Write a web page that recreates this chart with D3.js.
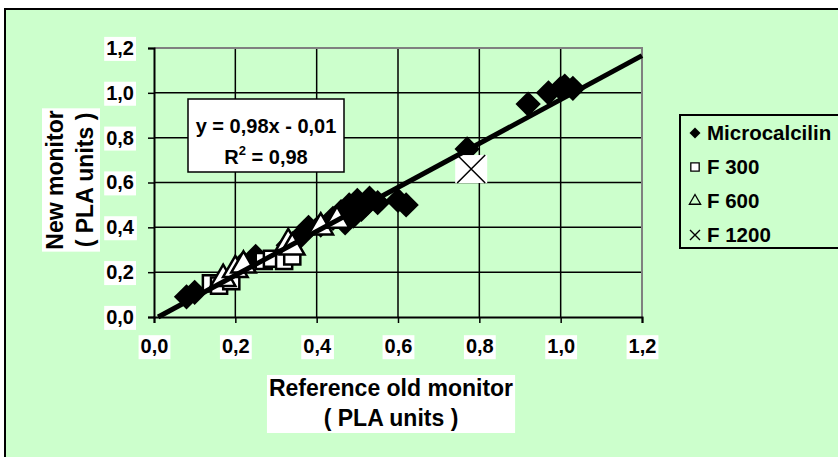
<!DOCTYPE html>
<html>
<head>
<meta charset="utf-8">
<script src="https://cdn.jsdelivr.net/npm/d3@7"></script>
<style>
  body { margin: 0; background: #fff; }
  text { font-family: "Liberation Sans", Arial, sans-serif; font-weight: bold; fill: #000; }
</style>
</head>
<body>
<svg width="838" height="457"></svg>
<script>

// Microcalcilin points (reference old monitor vs new monitor)
var microX = [0.08, 0.10, 0.22, 0.25, 0.33, 0.36, 0.38, 0.41, 0.44, 0.46, 0.47, 0.48, 0.49, 0.50, 0.51, 0.52, 0.53, 0.55, 0.60, 0.62, 0.77, 0.92, 0.97, 1.00, 1.01, 1.03];
var microY = [0.09, 0.11, 0.24, 0.27, 0.32, 0.36, 0.40, 0.41, 0.44, 0.47, 0.42, 0.50, 0.45, 0.52, 0.48, 0.50, 0.53, 0.51, 0.52, 0.50, 0.75, 0.95, 1.00, 1.02, 1.03, 1.02];

// F 300
var f300X = [0.14, 0.16, 0.19, 0.27, 0.29, 0.32, 0.34];
var f300Y = [0.15, 0.14, 0.16, 0.25, 0.26, 0.25, 0.27];

// F 600
var f600X = [0.17, 0.20, 0.22, 0.33, 0.34, 0.41, 0.45];
var f600Y = [0.17, 0.21, 0.23, 0.33, 0.31, 0.40, 0.43];

// F 1200
var f1200X = [0.78];
var f1200Y = [0.66];

// Axis ticks and labels
var tickValues = [0, 0.2, 0.4, 0.6, 0.8, 1.0, 1.2];
var tickLabels = ['0,0', '0,2', '0,4', '0,6', '0,8', '1,0', '1,2'];

// Linear trend
var slope = 0.98;
var intercept = -0.01;
var eqLabel = 'y = 0,98x - 0,01';
var r2Label = '0,98';

var seriesNames = ['Microcalcilin', 'F 300', 'F 600', 'F 1200'];

var svg = d3.select('svg');

// Chart area background and frame
svg.append('rect')
    .attr('x', 5).attr('y', 9)
    .attr('width', 845).attr('height', 460)
    .attr('fill', '#ccffcc')
    .attr('stroke', '#000')
    .attr('stroke-width', 2);

var x = d3.scaleLinear().domain([0, 1.2]).range([154, 642]);
var y = d3.scaleLinear().domain([0, 1.2]).range([317, 48]);

// Grid lines
svg.append('g').selectAll('line').data(tickValues.slice(1, -1))
  .enter().append('line')
    .attr('x1', d => x(d)).attr('x2', d => x(d))
    .attr('y1', y(0)).attr('y2', y(1.2))
    .attr('stroke', '#000').attr('stroke-width', 1.5);

svg.append('g').selectAll('line').data(tickValues.slice(1, -1))
  .enter().append('line')
    .attr('y1', d => y(d)).attr('y2', d => y(d))
    .attr('x1', x(0)).attr('x2', x(1.2))
    .attr('stroke', '#000').attr('stroke-width', 1.5);

// Plot border, top and right in gray
svg.append('path')
    .attr('d', 'M' + x(0) + ',' + y(1.2) + 'H' + x(1.2) + 'V' + y(0))
    .attr('fill', 'none')
    .attr('stroke', '#808080')
    .attr('stroke-width', 2);

// Axes
var fmt = d => tickLabels[tickValues.indexOf(d)];

var yAxis = svg.append('g')
    .attr('transform', 'translate(' + x(0) + ',0)')
    .call(d3.axisLeft(y).tickValues(tickValues).tickFormat(fmt).tickSize(6).tickPadding(14));

var xAxis = svg.append('g')
    .attr('transform', 'translate(0,' + y(0) + ')')
    .call(d3.axisBottom(x).tickValues(tickValues).tickFormat(fmt).tickSize(6).tickPadding(16));

[yAxis, xAxis].forEach(function(ax) {
  ax.select('.domain').attr('stroke', '#000').attr('stroke-width', 2);
  ax.selectAll('.tick line').attr('stroke', '#000').attr('stroke-width', 1.5);
  ax.selectAll('.tick text')
      .style('font-size', '20px')
      .style('font-family', '"Liberation Sans", Arial, sans-serif')
      .style('font-weight', 'bold')
      .attr('fill', '#000');
  // white box behind each tick label
  ax.selectAll('.tick').each(function() {
    var t = d3.select(this).select('text');
    var b = t.node().getBBox();
    d3.select(this).insert('rect', 'text')
        .attr('x', b.x - 2).attr('y', b.y)
        .attr('width', b.width + 4).attr('height', b.height + 2)
        .attr('fill', '#fff');
  });
});

// Marker shapes
var diamond = d3.symbol().type(d3.symbolSquare).size(320);
var square = d3.symbol().type(d3.symbolSquare).size(260);
var triangle = d3.symbol().type(d3.symbolTriangle).size(260);

// Microcalcilin diamonds
svg.append('g').selectAll('path').data(d3.zip(microX, microY))
  .enter().append('path')
    .attr('d', diamond)
    .attr('transform', d => 'translate(' + x(d[0]) + ',' + y(d[1]) + ') rotate(45)')
    .attr('fill', '#000');

// F 300 squares
svg.append('g').selectAll('path').data(d3.zip(f300X, f300Y))
  .enter().append('path')
    .attr('d', square)
    .attr('transform', d => 'translate(' + x(d[0]) + ',' + y(d[1]) + ')')
    .attr('fill', '#fff').attr('stroke', '#000').attr('stroke-width', 2.5);

// F 600 triangles
svg.append('g').selectAll('path').data(d3.zip(f600X, f600Y))
  .enter().append('path')
    .attr('d', triangle)
    .attr('transform', d => 'translate(' + x(d[0]) + ',' + y(d[1]) + ')')
    .attr('fill', '#fff').attr('stroke', '#000').attr('stroke-width', 2.5);

// F 1200 crosses on white box
var cross = svg.append('g').selectAll('g').data(d3.zip(f1200X, f1200Y))
  .enter().append('g')
    .attr('transform', d => 'translate(' + x(d[0]) + ',' + y(d[1]) + ')');
cross.append('rect')
    .attr('x', -16).attr('y', -14).attr('width', 32).attr('height', 28)
    .attr('fill', '#fff');
cross.append('path')
    .attr('d', 'M-14,-14L14,14M14,-14L-14,14')
    .attr('stroke', '#000').attr('stroke-width', 1.5);

// Trend line
var x0 = -intercept / slope;
svg.append('line')
    .attr('x1', x(x0)).attr('y1', y(slope * x0 + intercept))
    .attr('x2', x(1.2)).attr('y2', y(slope * 1.2 + intercept))
    .attr('stroke', '#000').attr('stroke-width', 5);

// Equation box
var eq = svg.append('g');
eq.append('rect')
    .attr('x', 188).attr('y', 99).attr('width', 156).attr('height', 73)
    .attr('fill', '#fff').attr('stroke', '#000').attr('stroke-width', 1.5);
eq.append('text')
    .attr('x', 266).attr('y', 133)
    .attr('text-anchor', 'middle')
    .style('font-size', '20px')
    .text(eqLabel);
var r2 = eq.append('text')
    .attr('x', 266).attr('y', 164)
    .attr('text-anchor', 'middle')
    .style('font-size', '20px');
r2.append('tspan').text('R');
r2.append('tspan').attr('dy', -9).style('font-size', '13px').text('2');
r2.append('tspan').attr('dy', 9).text(' = ' + r2Label);

// Axis titles
function titleBlock(lines, cx, cy, rotate) {
  var g = svg.append('g')
      .attr('transform', 'translate(' + cx + ',' + cy + ')' + (rotate ? ' rotate(-90)' : ''));
  var bg = g.append('rect').attr('fill', '#fff');
  var t = g.append('text')
      .attr('text-anchor', 'middle')
      .style('font-size', '23px');
  lines.forEach(function(l, i) {
    t.append('tspan').attr('x', 0).attr('y', i * 30 - 7).text(l);
  });
  var b = t.node().getBBox();
  bg.attr('x', b.x - 2).attr('y', b.y).attr('width', b.width + 4).attr('height', b.height + 2);
}
titleBlock(['Reference old monitor', '( PLA units )'], 391, 403, false);
titleBlock(['New monitor', '( PLA units )'], 70, 180, true);

// Legend
var legend = svg.append('g');
legend.append('rect')
    .attr('x', 680).attr('y', 115).attr('width', 200).attr('height', 133)
    .attr('fill', '#ccffcc').attr('stroke', '#000').attr('stroke-width', 2);

var legendY = [133, 167, 201, 235];
var items = legend.selectAll('g.item').data(seriesNames)
  .enter().append('g')
    .attr('class', 'item')
    .attr('transform', (d, i) => 'translate(695,' + legendY[i] + ')');

items.append('text')
    .attr('x', 12).attr('y', 7)
    .style('font-size', '20.5px')
    .text(d => d);

items.filter((d, i) => i === 0).append('path')
    .attr('d', d3.symbol().type(d3.symbolSquare).size(60))
    .attr('transform', 'rotate(45)')
    .attr('fill', '#000');
items.filter((d, i) => i === 1).append('path')
    .attr('d', d3.symbol().type(d3.symbolSquare).size(70))
    .attr('fill', '#fff').attr('stroke', '#000').attr('stroke-width', 1.3);
items.filter((d, i) => i === 2).append('path')
    .attr('d', d3.symbol().type(d3.symbolTriangle).size(55))
    .attr('fill', 'none').attr('stroke', '#000').attr('stroke-width', 1.3);
items.filter((d, i) => i === 3).append('path')
    .attr('d', 'M-5,-5L5,5M5,-5L-5,5')
    .attr('stroke', '#000').attr('stroke-width', 1.4);

</script>
</body>
</html>
